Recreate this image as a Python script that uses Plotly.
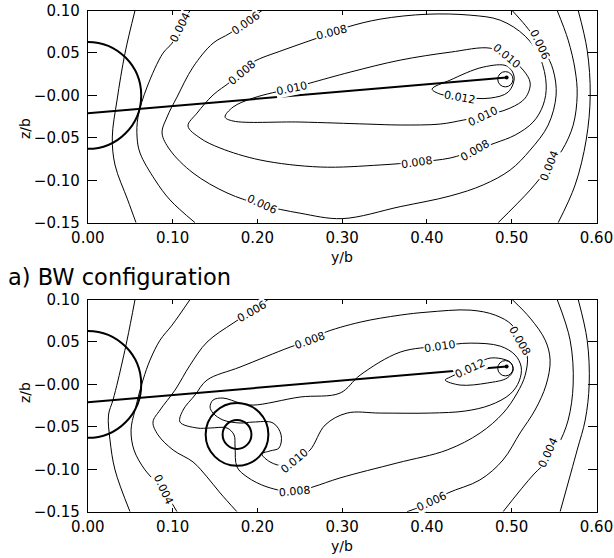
import plotly.graph_objects as go

# ---------------- data (y/b, z/b) ----------------
X_TICKS = [0.0, 0.1, 0.2, 0.3, 0.4, 0.5, 0.6]
X_TICKTEXT = ["0.00", "0.10", "0.20", "0.30", "0.40", "0.50", "0.60"]
Y_TICKS = [0.10, 0.05, 0.0, -0.05, -0.10, -0.15]
Y_TICKTEXT = ["0.10", "0.05", "\u22120.00", "\u22120.05", "\u22120.10", "\u22120.15"]

FUSELAGE = (0.0, 0.0, 0.063)          # centre y, centre z, radius
WING_Y = [0.0, 0.494]
WING_Z = [-0.021, 0.021]
TIP_VORTEX = (0.4925, 0.019, 0.009)   # small closed contour at wing tip
TAIL_OUTER = (0.176, -0.059, 0.037)
TAIL_INNER = (0.176, -0.059, 0.017)

# panel 1 contours (y/b, z/b)
T_002L = [(0.0557, 0.100), (0.0439, 0.0498), (0.0345, -0.0055), (0.0289, -0.0491), (0.0321, -0.082), (0.0471, -0.1232), (0.0569, -0.150)]
T_004L = [(0.1206, 0.100), (0.1088, 0.0804), (0.0994, 0.0615), (0.0887, 0.0498), (0.0699, 0.0098), (0.0592, -0.0255), (0.0581, -0.0491), (0.0616, -0.0679), (0.0793, -0.0996), (0.097, -0.1232), (0.1265, -0.150)]
T_006 = [(0.2055, 0.100), (0.1678, 0.0733), (0.1477, 0.0615), (0.1241, 0.0333), (0.1052, -0.002), (0.0935, -0.0255), (0.0876, -0.0444), (0.097, -0.0644), (0.1241, -0.0914), (0.1642, -0.1149), (0.2055, -0.1291), (0.2504, -0.1388), (0.30, -0.1452), (0.3684, -0.1311), (0.4274, -0.1185), (0.4663, -0.1055), (0.4982, -0.0879), (0.5218, -0.0644), (0.5430, -0.0350), (0.5524, 0.0004), (0.5489, 0.0298), (0.5395, 0.0509), (0.5312, 0.0627), (0.5159, 0.0827), (0.5005, 0.100)]
T_008 = [(0.1182, -0.0361), (0.1289, -0.0208), (0.1477, 0.0004), (0.1678, 0.0156), (0.1819, 0.0274), (0.1949, 0.0392), (0.2303, 0.0533), (0.2704, 0.0674), (0.3058, 0.0804), (0.3448, 0.0898), (0.4002, 0.0956), (0.451, 0.0945), (0.4864, 0.0886), (0.5159, 0.0698), (0.5336, 0.0439), (0.5407, 0.0121), (0.5371, -0.0114), (0.5253, -0.0314), (0.5041, -0.0467), (0.4805, -0.0561), (0.4569, -0.0644), (0.4274, -0.0738), (0.3884, -0.0785), (0.3448, -0.082), (0.274, -0.0844), (0.2032, -0.0761), (0.156, -0.062), (0.1324, -0.0502), (0.1182, -0.0361)]
T_010 = [(0.1619, -0.0255), (0.1713, -0.0138), (0.1949, -0.0032), (0.241, 0.0086), (0.2622, 0.0145), (0.3094, 0.0274), (0.3684, 0.0415), (0.4274, 0.0509), (0.4746, 0.0556), (0.4946, 0.0462), (0.5135, 0.0298), (0.5218, 0.0145), (0.5159, -0.0032), (0.4982, -0.0149), (0.4663, -0.0244), (0.4428, -0.0291), (0.4156, -0.0338), (0.3684, -0.0349), (0.3294, -0.0338), (0.2504, -0.0314), (0.1713, -0.0302), (0.1619, -0.0255)]
T_012 = [(0.4061, 0.0074), (0.4274, 0.018), (0.4663, 0.0333), (0.4946, 0.0345), (0.5029, 0.0215), (0.4958, 0.0039), (0.4746, -0.0032), (0.4392, -0.002), (0.4156, 0.0015), (0.4061, 0.0074)]
T_004R = [(0.5536, 0.100), (0.5666, 0.0651), (0.5748, 0.0298), (0.5772, 0.0004), (0.5725, -0.0351), (0.5595, -0.0644), (0.5430, -0.0856), (0.5218, -0.1114), (0.4840, -0.150)]
T_002R = [(0.5784, 0.100), (0.5890, 0.0533), (0.5926, 0.0004), (0.5878, -0.0526), (0.5748, -0.1055), (0.5548, -0.150)]
T_LABELS = [("0.004", 0.1088, 0.0804, -63), ("0.006", 0.1860, 0.0850, -35), ("0.008", 0.1819, 0.0274, -40),
            ("0.008", 0.2880, 0.0740, -14), ("0.010", 0.2410, 0.0086, -12), ("0.010", 0.4946, 0.0462, 40),
            ("0.012", 0.4392, -0.002, 10), ("0.010", 0.4663, -0.0244, -25), ("0.008", 0.4569, -0.0644, -30),
            ("0.008", 0.3884, -0.0785, -8), ("0.006", 0.2055, -0.1291, 25), ("0.006", 0.5330, 0.0600, 65),
            ("0.004", 0.5450, -0.0830, -68)]

# panel 2 contours
B_002L = [(0.0557, 0.100), (0.0463, 0.0521), (0.0357, 0.0051), (0.0297, -0.0185), (0.0244, -0.0361), (0.0262, -0.0655), (0.0321, -0.1008), (0.0498, -0.150)]
B_004L = [(0.1206, 0.100), (0.0994, 0.0698), (0.0852, 0.0521), (0.0734, 0.0286), (0.0651, 0.0051), (0.0557, -0.0302), (0.051, -0.0538), (0.0545, -0.0773), (0.0675, -0.1008), (0.0887, -0.1243), (0.1052, -0.150)]
B_006L = [(0.2126, 0.100), (0.1937, 0.0862), (0.1713, 0.0721), (0.1406, 0.0498), (0.1206, 0.0227), (0.1029, -0.0067), (0.0852, -0.0302), (0.0769, -0.0444), (0.0829, -0.0596), (0.1006, -0.0773), (0.1241, -0.0914), (0.1406, -0.109), (0.156, -0.1278), (0.1759, -0.150)]
B_006R = [(0.3766, -0.150), (0.4061, -0.1385), (0.4249, -0.1279), (0.4625, -0.1126), (0.4897, -0.0891), (0.5098, -0.0573), (0.5275, -0.0302), (0.5405, -0.0008), (0.5453, 0.0286), (0.5395, 0.0521), (0.5218, 0.0780), (0.5005, 0.100)]
B_008 = [(0.2622, 0.0521), (0.2386, 0.0439), (0.1796, 0.0204), (0.1406, 0.0051), (0.1265, -0.0125), (0.1124, -0.0302), (0.1088, -0.0444), (0.1289, -0.0514), (0.1442, -0.0514), (0.1642, -0.0514), (0.1725, -0.0596), (0.1737, -0.0738), (0.1760, -0.0973), (0.1878, -0.1090), (0.2114, -0.1208), (0.2445, -0.1267), (0.2657, -0.1208), (0.2976, -0.1102), (0.3648, -0.0926), (0.4238, -0.0773), (0.4627, -0.0573), (0.4899, -0.0338), (0.5064, -0.0102), (0.5159, 0.0109), (0.5182, 0.0345), (0.5100, 0.0509), (0.5005, 0.0698), (0.4805, 0.0816), (0.4510, 0.0875), (0.4002, 0.0851), (0.3684, 0.0816), (0.3212, 0.0733), (0.2775, 0.0604), (0.2622, 0.0521)]
B_010 = [(0.4156, 0.0451), (0.4510, 0.0486), (0.4864, 0.0451), (0.5041, 0.0345), (0.5112, 0.0204), (0.5088, 0.0039), (0.4982, -0.0114), (0.4746, -0.0244), (0.4451, -0.0314), (0.4038, -0.0338), (0.3448, -0.0338), (0.3058, -0.0338), (0.2799, -0.0479), (0.2622, -0.0773), (0.2445, -0.0902), (0.2327, -0.0961), (0.2150, -0.0914), (0.2055, -0.0820), (0.2150, -0.0784), (0.2256, -0.0749), (0.2280, -0.0596), (0.2185, -0.0455), (0.1949, -0.0444), (0.1796, -0.0455), (0.1595, -0.0420), (0.1477, -0.0338), (0.1442, -0.0267), (0.1477, -0.0185), (0.1595, -0.0161), (0.1796, -0.0220), (0.1949, -0.0244), (0.2504, -0.0149), (0.2976, -0.0102), (0.3212, 0.0109), (0.3684, 0.0380), (0.4156, 0.0451)]
B_012 = [(0.4215, 0.0051), (0.4392, -0.0008), (0.4711, 0.0016), (0.4946, 0.0075), (0.5017, 0.0168), (0.4981, 0.0262), (0.4746, 0.0310), (0.4512, 0.0193), (0.4274, 0.0086), (0.4215, 0.0051)]
B_004R = [(0.5536, 0.100), (0.5689, 0.0521), (0.5725, 0.0004), (0.5666, -0.0420), (0.5548, -0.0714), (0.5430, -0.0891), (0.5253, -0.1067), (0.4898, -0.150)]
B_002R = [(0.5784, 0.100), (0.5890, 0.0521), (0.5914, 0.0004), (0.5867, -0.0420), (0.5772, -0.0773), (0.5571, -0.150)]
B_LABELS = [("0.004", 0.0887, -0.1243, 65), ("0.006", 0.1937, 0.0862, -30), ("0.008", 0.2622, 0.0521, -20),
            ("0.010", 0.4156, 0.0451, -8), ("0.012", 0.4512, 0.0193, -25), ("0.008", 0.5100, 0.0509, 60),
            ("0.010", 0.2445, -0.0902, -40), ("0.008", 0.2445, -0.1267, -5), ("0.006", 0.4061, -0.1385, -25),
            ("0.004", 0.5430, -0.0800, -65)]

TITLE = "a) BW configuration"
X_TITLE = "y/b"
Y_TITLE = "z/b"

# ---------------- figure ----------------
FONT = "DejaVu Sans"
fig = go.Figure()

panels = [
    ("x", "y", [T_002L, T_004L, T_006, T_008, T_010, T_012, T_004R, T_002R], T_LABELS, False),
    ("x2", "y2", [B_002L, B_004L, B_006L, B_006R, B_008, B_010, B_012, B_004R, B_002R], B_LABELS, True),
]

shapes = []
annotations = []
for xa, ya, curves, labels, tail in panels:
    for c in curves:
        fig.add_trace(go.Scatter(x=[p[0] for p in c], y=[p[1] for p in c], xaxis=xa, yaxis=ya,
                                 mode="lines", line=dict(color="black", width=1, shape="spline", smoothing=1.0),
                                 hoverinfo="skip", showlegend=False))
    fig.add_trace(go.Scatter(x=WING_Y, y=WING_Z, xaxis=xa, yaxis=ya, mode="lines",
                             line=dict(color="black", width=2), hoverinfo="skip", showlegend=False))
    fig.add_trace(go.Scatter(x=[WING_Y[1]], y=[WING_Z[1]], xaxis=xa, yaxis=ya, mode="markers",
                             marker=dict(color="black", size=4), hoverinfo="skip", showlegend=False))
    circles = [(FUSELAGE, 2), (TIP_VORTEX, 1)]
    if tail:
        circles += [(TAIL_OUTER, 2), (TAIL_INNER, 2)]
    for (cy, cz, r), w in circles:
        shapes.append(dict(type="circle", xref=xa, yref=ya, x0=cy - r, x1=cy + r, y0=cz - r, y1=cz + r,
                           line=dict(color="black", width=w)))
    for txt, lx, ly, ang in labels:
        annotations.append(dict(text=txt, x=lx, y=ly, xref=xa, yref=ya, showarrow=False, textangle=ang,
                                font=dict(family=FONT, size=11, color="black"), bgcolor="white", borderpad=0))

W, H = 614, 558
x_dom = [87.8 / W, 596.5 / W]
top_dom = [1 - 222.7 / H, 1 - 10.5 / H]
bot_dom = [1 - 511.7 / H, 1 - 299.5 / H]

axis_common = dict(showgrid=False, zeroline=False, showline=True, linecolor="black", linewidth=1,
                   mirror="ticks", ticks="inside", tickcolor="black", tickwidth=1, automargin=False,
                   tickfont=dict(family=FONT, size=15, color="black"))
xcommon = dict(axis_common, range=[0, 0.60], tickvals=X_TICKS, ticktext=X_TICKTEXT, ticklen=4,
               ticklabelstandoff=1)
ycommon = dict(axis_common, range=[-0.15, 0.10], tickvals=Y_TICKS, ticktext=Y_TICKTEXT, ticklen=9,
               ticklabelstandoff=4)

fig.update_layout(
    width=W, height=H, autosize=False, margin=dict(l=0, r=0, t=0, b=0, autoexpand=False),
    paper_bgcolor="white", plot_bgcolor="white",
    xaxis=dict(xcommon, domain=x_dom, anchor="y"),
    yaxis=dict(ycommon, domain=top_dom, anchor="x"),
    xaxis2=dict(xcommon, domain=x_dom, anchor="y2"),
    yaxis2=dict(ycommon, domain=bot_dom, anchor="x2"),
    shapes=shapes,
)

# axis titles and panel title
for ydom in (top_dom, bot_dom):
    annotations.append(dict(text=Y_TITLE, x=15 / W, y=(ydom[0] + ydom[1]) / 2, xref="paper", yref="paper",
                            showarrow=False, textangle=-90, font=dict(family=FONT, size=14, color="black")))
    annotations.append(dict(text=X_TITLE, x=(x_dom[0] + x_dom[1]) / 2 - 0.5 / W, y=ydom[0] - 24 / H,
                            xref="paper", yref="paper", showarrow=False, yanchor="top",
                            font=dict(family=FONT, size=14, color="black")))
annotations.append(dict(text=TITLE, x=6 / W, y=1 - 277 / H, xref="paper", yref="paper", xanchor="left",
                        yanchor="middle", showarrow=False, font=dict(family=FONT, size=22.5, color="black")))
fig.update_layout(annotations=annotations)

fig.write_html("out.html")
